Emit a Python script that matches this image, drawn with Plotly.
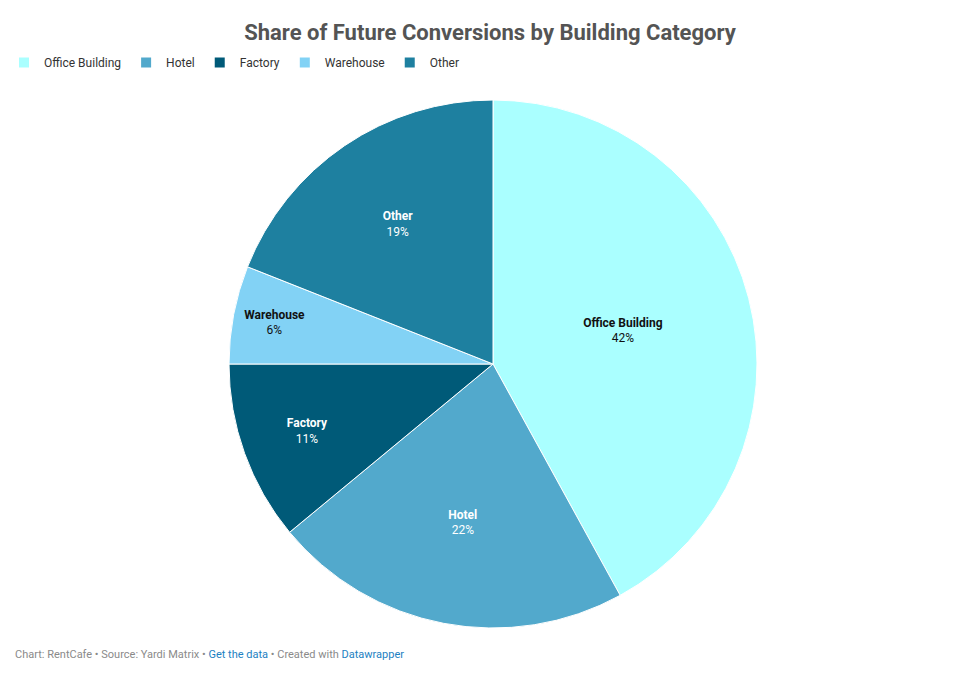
import plotly.graph_objects as go

categories = ["Office Building", "Hotel", "Factory", "Warehouse", "Other"]
shares = [42, 22, 11, 6, 19]
colors = ["#aaffff", "#52a9cc", "#005a78", "#82d2f5", "#1e80a0"]
text_colors = ["#111111", "#ffffff", "#ffffff", "#111111", "#ffffff"]

W, H = 980, 673

fig = go.Figure(go.Pie(
    labels=categories,
    values=shares,
    sort=False,
    direction="clockwise",
    rotation=0,
    marker=dict(colors=colors, line=dict(color="#ffffff", width=1)),
    texttemplate="<b>%{label}</b><br>%{value}%",
    textposition="inside",
    insidetextorientation="horizontal",
    textfont=dict(family="Roboto", size=12, color=text_colors),
    hoverinfo="label+percent",
    domain=dict(x=[229 / W, 757 / W], y=[1 - 628 / H, 1 - 100 / H]),
))

fig.update_layout(
    width=W, height=H,
    margin=dict(l=0, r=0, t=0, b=0),
    paper_bgcolor="#ffffff",
    font=dict(family="Roboto", size=12, color="#333333"),
    title=dict(
        text="<b>Share of Future Conversions by Building Category</b>",
        x=0.5, xanchor="center", xref="paper",
        y=1 - 32 / H, yanchor="middle", yref="container",
        font=dict(family="Roboto", size=22, color="#545454"),
    ),
    legend=dict(
        orientation="h",
        x=4 / W, xanchor="left",
        y=1 - 48 / H, yanchor="top",
        font=dict(family="Roboto", size=12, color="#333333"),
        itemsizing="constant",
        traceorder="normal",
    ),
    annotations=[dict(
        text=("Chart: RentCafe • Source: Yardi Matrix • "
              "<span style='color:#1d81c2'>Get the data</span> • Created with "
              "<span style='color:#1d81c2'>Datawrapper</span>"),
        x=13 / W, xref="paper", xanchor="left",
        y=1 - 654 / H, yref="paper", yanchor="middle",
        showarrow=False,
        font=dict(family="Roboto", size=11, color="#8a8a8a"),
    )],
)

fig.write_html("out.html")
